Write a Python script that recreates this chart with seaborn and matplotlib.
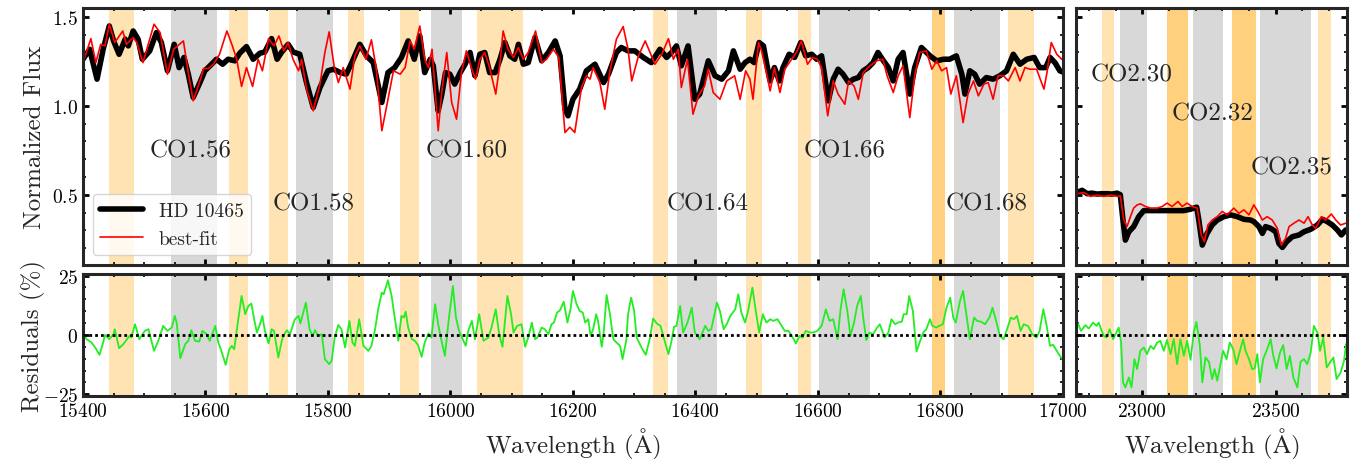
import matplotlib
matplotlib.use("Agg")
import matplotlib.pyplot as plt
import seaborn as sns
from matplotlib.ticker import MultipleLocator

# ---- observed spectrum (HD 10465), H band ----
wave_obs = [15400, 15411, 15423, 15433, 15443, 15450, 15459, 15469, 15474, 15482, 15490, 15497,
            15509, 15520, 15528, 15538, 15549, 15557, 15565, 15572, 15580, 15591, 15599, 15610,
            15618, 15628, 15637, 15648, 15656, 15667, 15678, 15689, 15697, 15708, 15717, 15724,
            15735, 15743, 15754, 15765, 15776, 15787, 15800, 15809, 15820, 15830, 15839, 15852,
            15863, 15874, 15888, 15898, 15909, 15920, 15931, 15941, 15950, 15958, 15967, 15972,
            15980, 15986, 15992, 15999, 16007, 16016, 16024, 16032, 16040, 16048, 16056, 16064,
            16073, 16081, 16089, 16097, 16105, 16111, 16119, 16127, 16138, 16149, 16160, 16171,
            16179, 16187, 16192, 16200, 16211, 16222, 16236, 16250, 16258, 16271, 16279, 16290,
            16301, 16315, 16328, 16342, 16353, 16361, 16369, 16377, 16388, 16399, 16407, 16421,
            16432, 16443, 16454, 16462, 16473, 16481, 16489, 16496, 16504, 16511, 16517, 16522,
            16529, 16537, 16543, 16553, 16562, 16572, 16580, 16590, 16598, 16606, 16617, 16625,
            16633, 16641, 16650, 16658, 16666, 16674, 16682, 16690, 16698, 16707, 16715, 16723,
            16731, 16739, 16750, 16758, 16769, 16783, 16794, 16805, 16815, 16826, 16835, 16840,
            16848, 16856, 16864, 16875, 16886, 16897, 16908, 16919, 16930, 16941, 16953, 16962,
            16972, 16979, 16987, 16995, 17000]
flux_obs = [1.262, 1.318, 1.150, 1.318, 1.449, 1.365, 1.290, 1.375, 1.337, 1.421, 1.375, 1.262,
            1.309, 1.412, 1.356, 1.197, 1.346, 1.215, 1.272, 1.178, 1.047, 1.131, 1.197, 1.234,
            1.262, 1.234, 1.262, 1.253, 1.296, 1.333, 1.262, 1.296, 1.303, 1.378, 1.262, 1.300,
            1.346, 1.303, 1.290, 1.131, 0.991, 1.103, 1.197, 1.206, 1.187, 1.178, 1.243, 1.346,
            1.281, 1.243, 1.019, 1.187, 1.215, 1.272, 1.365, 1.262, 1.393, 1.187, 1.262, 1.225,
            0.972, 1.066, 1.187, 1.178, 1.122, 1.187, 1.234, 1.300, 1.169, 1.290, 1.300, 1.187,
            1.187, 1.262, 1.356, 1.281, 1.262, 1.346, 1.234, 1.243, 1.384, 1.253, 1.300, 1.365,
            1.281, 0.981, 0.944, 1.037, 1.094, 1.197, 1.234, 1.131, 1.178, 1.300, 1.328, 1.309,
            1.309, 1.272, 1.243, 1.318, 1.272, 1.300, 1.337, 1.225, 1.337, 1.037, 1.066, 1.253,
            1.169, 1.150, 1.197, 1.309, 1.206, 1.243, 1.262, 1.243, 1.356, 1.337, 1.225, 1.140,
            1.215, 1.140, 1.215, 1.290, 1.272, 1.356, 1.281, 1.290, 1.262, 1.281, 1.028, 1.150,
            1.206, 1.178, 1.131, 1.150, 1.159, 1.197, 1.215, 1.243, 1.300, 1.253, 1.215, 1.140,
            1.262, 1.300, 1.066, 1.215, 1.328, 1.281, 1.253, 1.262, 1.262, 1.281, 1.178, 1.066,
            1.197, 1.178, 1.122, 1.159, 1.150, 1.169, 1.197, 1.290, 1.234, 1.262, 1.272, 1.215,
            1.215, 1.272, 1.243, 1.197, 1.190]

# ---- best-fit model, H band ----
wave_fit = [15400, 15413, 15421, 15429, 15436, 15443, 15452, 15465, 15471, 15482, 15488, 15498,
            15516, 15526, 15538, 15548, 15564, 15572, 15580, 15591, 15597, 15605, 15613, 15623,
            15635, 15644, 15651, 15659, 15667, 15677, 15686, 15693, 15703, 15712, 15720, 15728,
            15735, 15743, 15752, 15757, 15765, 15776, 15787, 15795, 15802, 15810, 15817, 15825,
            15836, 15844, 15852, 15862, 15871, 15879, 15888, 15896, 15907, 15918, 15926, 15934,
            15941, 15950, 15958, 15964, 15970, 15980, 15986, 15994, 16002, 16010, 16018, 16026,
            16035, 16041, 16048, 16056, 16064, 16074, 16081, 16086, 16094, 16103, 16111, 16119,
            16127, 16139, 16149, 16157, 16168, 16177, 16187, 16195, 16203, 16214, 16222, 16228,
            16233, 16244, 16252, 16260, 16271, 16282, 16290, 16296, 16307, 16318, 16326, 16334,
            16345, 16356, 16364, 16372, 16377, 16387, 16396, 16405, 16415, 16421, 16429, 16440,
            16451, 16464, 16473, 16482, 16489, 16494, 16503, 16508, 16517, 16522, 16529, 16538,
            16546, 16557, 16565, 16573, 16583, 16591, 16599, 16606, 16616, 16625, 16633, 16644,
            16650, 16659, 16666, 16674, 16685, 16696, 16706, 16713, 16723, 16731, 16739, 16750,
            16758, 16766, 16777, 16786, 16794, 16802, 16810, 16817, 16826, 16837, 16845, 16854,
            16862, 16871, 16878, 16886, 16894, 16903, 16911, 16922, 16930, 16938, 16946, 16957,
            16969, 16974, 16981, 16990, 16998]
flux_fit = [1.243, 1.378, 1.243, 1.346, 1.337, 1.459, 1.356, 1.421, 1.346, 1.384, 1.356, 1.243,
            1.459, 1.412, 1.178, 1.318, 1.365, 1.187, 1.028, 1.140, 1.210, 1.210, 1.234, 1.290,
            1.421, 1.337, 1.262, 1.109, 1.215, 1.109, 1.262, 1.197, 1.378, 1.337, 1.393, 1.309,
            1.356, 1.262, 1.197, 1.262, 1.094, 0.972, 1.122, 1.300, 1.416, 1.225, 1.131, 1.215,
            1.094, 1.281, 1.337, 1.262, 1.371, 1.206, 0.860, 1.000, 1.197, 1.178, 1.215, 1.365,
            1.318, 1.449, 1.262, 1.215, 1.318, 0.860, 1.084, 1.300, 1.019, 0.925, 1.187, 1.309,
            1.206, 1.150, 1.262, 1.300, 1.215, 1.066, 1.243, 1.421, 1.318, 1.272, 1.328, 1.262,
            1.300, 1.421, 1.243, 1.262, 1.318, 1.272, 0.850, 0.880, 0.850, 1.103, 1.169, 1.150,
            1.215, 1.131, 0.981, 1.187, 1.375, 1.446, 1.318, 1.140, 1.281, 1.365, 1.300, 1.234,
            1.290, 1.378, 1.262, 1.318, 1.103, 1.262, 0.953, 1.056, 1.112, 1.206, 1.075, 1.037,
            1.140, 1.169, 1.037, 1.197, 1.150, 1.037, 1.356, 1.309, 1.169, 1.084, 1.215, 1.075,
            1.206, 1.262, 1.300, 1.365, 1.234, 1.272, 1.262, 1.215, 0.944, 1.140, 1.066, 1.009,
            1.140, 1.112, 1.037, 1.187, 1.225, 1.253, 1.262, 1.169, 1.075, 1.169, 1.225, 0.934,
            1.169, 1.300, 1.309, 1.206, 1.253, 1.197, 1.215, 1.066, 1.169, 0.906, 1.066, 1.140,
            1.056, 1.122, 1.131, 1.037, 1.169, 1.169, 1.140, 1.215, 1.140, 1.215, 1.206, 1.206,
            1.094, 1.187, 1.356, 1.290, 1.262]

# ---- residuals (%), H band ----
wave_res = [15401, 15406, 15414, 15420, 15427, 15433, 15436, 15443, 15450, 15452, 15459, 15466,
            15476, 15479, 15485, 15492, 15501, 15507, 15516, 15523, 15531, 15538, 15545, 15550,
            15553, 15559, 15567, 15572, 15577, 15583, 15590, 15595, 15602, 15607, 15616, 15621,
            15626, 15633, 15639, 15643, 15647, 15654, 15659, 15665, 15670, 15675, 15679, 15684,
            15689, 15693, 15697, 15703, 15708, 15712, 15719, 15724, 15727, 15733, 15738, 15746,
            15752, 15755, 15764, 15770, 15775, 15779, 15784, 15790, 15795, 15802, 15806, 15811,
            15817, 15822, 15828, 15835, 15840, 15844, 15851, 15858, 15866, 15871, 15877, 15882,
            15888, 15891, 15898, 15904, 15909, 15915, 15920, 15924, 15927, 15931, 15937, 15942,
            15947, 15953, 15958, 15964, 15969, 15975, 15980, 15986, 15991, 15997, 16004, 16009,
            16014, 16020, 16025, 16029, 16035, 16040, 16047, 16054, 16062, 16067, 16074, 16080,
            16085, 16093, 16099, 16103, 16109, 16116, 16122, 16127, 16133, 16138, 16142, 16149,
            16154, 16160, 16165, 16169, 16174, 16179, 16185, 16191, 16196, 16200, 16206, 16211,
            16216, 16220, 16225, 16229, 16233, 16238, 16241, 16247, 16250, 16255, 16260, 16266,
            16271, 16277, 16281, 16287, 16290, 16295, 16300, 16304, 16312, 16319, 16326, 16331,
            16337, 16343, 16349, 16356, 16361, 16365, 16369, 16375, 16380, 16387, 16394, 16399,
            16407, 16416, 16421, 16426, 16435, 16440, 16446, 16451, 16457, 16465, 16470, 16475,
            16481, 16486, 16493, 16499, 16504, 16510, 16516, 16522, 16527, 16534, 16539, 16546,
            16552, 16559, 16564, 16570, 16575, 16580, 16587, 16592, 16599, 16606, 16613, 16619,
            16625, 16632, 16637, 16642, 16648, 16653, 16659, 16664, 16670, 16674, 16679, 16684,
            16690, 16696, 16701, 16709, 16715, 16720, 16726, 16731, 16737, 16740, 16745, 16749,
            16755, 16761, 16767, 16772, 16777, 16783, 16787, 16793, 16798, 16804, 16810, 16816,
            16821, 16825, 16832, 16837, 16843, 16848, 16855, 16860, 16866, 16873, 16880, 16885,
            16891, 16897, 16903, 16908, 16915, 16920, 16925, 16931, 16936, 16943, 16950, 16957,
            16962, 16968, 16973, 16979, 16984, 16990, 16995, 17000]
resid = [0.3, -1.8, -3.2, -5.3, -8.4, -3.2, 0.0, -1.8, 0.3, 2.4, -5.6, -3.9,
         -0.4, -1.1, 4.5, -1.8, 1.7, 2.4, -6.7, -2.5, 3.8, 1.7, 3.1, 8.0,
         5.2, -9.8, -3.9, -2.5, 2.0, -2.5, -2.8, 1.7, 0.3, -2.5, 3.8, -3.2,
         -6.7, -12.6, -6.0, -4.6, -6.0, 7.3, 16.4, 8.7, 12.2, 13.2, 7.3, 1.0,
         4.5, 8.0, 1.7, -3.6, 2.4, 1.7, -9.5, -3.2, -0.4, 2.0, 0.3, 6.6,
         8.0, 4.8, 13.6, 2.4, -0.4, 2.0, -0.4, 0.3, -10.2, -12.3, -10.9, -1.1,
         4.2, 2.4, -5.3, 5.9, -3.2, -4.6, 6.6, -4.6, -6.7, -4.6, 2.4, 10.8,
         17.8, 17.1, 23.0, 16.4, 7.3, -2.5, 8.0, 7.3, 9.8, 3.1, -1.8, -2.5,
         -4.2, -9.2, -3.2, 0.6, -1.1, 12.9, 4.5, -3.2, -8.8, 5.9, 20.6, 7.3,
         1.7, -1.8, -4.6, 1.7, 5.9, -1.8, 8.7, -2.5, -1.1, 3.1, 10.8, -0.4,
         -5.0, 16.4, 8.7, 1.0, 3.8, 4.5, -5.0, -1.1, 5.2, -1.8, -1.1, 3.1,
         2.4, 0.3, 4.5, 5.2, 9.4, 10.4, 14.0, 5.2, 10.8, 18.5, 12.9, 10.1,
         9.4, 5.2, 6.6, -0.4, 2.4, 8.7, 5.9, -5.0, 0.3, 16.8, 9.4, -1.8,
         -3.2, -4.6, -10.2, -2.5, 8.7, 15.7, 10.1, -1.1, -5.3, -8.4, -1.1, 6.9,
         4.8, 3.8, -1.8, -8.1, -2.5, 3.4, 3.8, 12.2, 1.0, 5.2, 11.5, 1.0,
         -1.8, 3.8, 1.7, 2.4, 13.6, 10.1, 2.4, 4.5, 8.0, 10.8, 17.1, 9.4,
         5.2, 10.1, 19.9, 9.4, 1.0, 8.7, 5.2, 6.6, 5.9, 6.6, 4.5, 1.7,
         1.7, -1.1, -3.6, -0.4, -1.1, 1.7, 1.0, 1.0, 1.7, 3.8, 10.8, 5.9,
         6.6, -1.8, 10.8, 19.2, 10.1, -0.4, 5.2, 12.2, 16.4, 7.3, -2.2, 1.0,
         0.3, 2.8, 4.5, -1.1, 1.0, 6.6, 4.5, 5.2, 5.6, 8.7, 8.7, 16.4,
         10.1, -7.0, -2.5, 1.0, 2.4, 6.6, 3.8, 3.1, 3.8, 4.5, 11.5, 15.7,
         7.3, 5.2, 14.3, 18.5, 7.3, -1.8, 7.3, 5.9, 5.6, 4.5, 7.3, 11.5,
         5.9, -0.4, -1.8, 1.7, 7.3, 6.6, 8.0, 1.7, 4.5, 3.8, 0.3, -1.1,
         1.7, 10.8, 4.5, -4.6, -4.2, -6.7, -8.8, -10.5]

# ---- K band (CO 2.3 micron) ----
wave_obs_k = [22756, 22775, 22794, 22812, 22831, 22850, 22869, 22887, 22906, 22918, 22928, 22937,
              22950, 22968, 22987, 23006, 23031, 23056, 23081, 23106, 23131, 23156, 23181, 23204,
              23212, 23225, 23243, 23262, 23281, 23306, 23331, 23356, 23381, 23406, 23418, 23437,
              23450, 23462, 23481, 23500, 23512, 23525, 23541, 23562, 23587, 23606, 23631, 23656,
              23675, 23693, 23712, 23731, 23746, 23762]
flux_obs_k = [0.513, 0.525, 0.506, 0.509, 0.504, 0.506, 0.506, 0.504, 0.509, 0.500, 0.358, 0.245,
              0.292, 0.321, 0.377, 0.411, 0.411, 0.411, 0.411, 0.411, 0.411, 0.411, 0.419, 0.430,
              0.358, 0.217, 0.283, 0.330, 0.358, 0.377, 0.387, 0.377, 0.362, 0.358, 0.349, 0.321,
              0.283, 0.321, 0.311, 0.292, 0.226, 0.204, 0.236, 0.264, 0.274, 0.292, 0.306, 0.330,
              0.362, 0.349, 0.330, 0.302, 0.274, 0.302]
wave_fit_k = [22756, 22781, 22806, 22831, 22856, 22881, 22906, 22918, 22931, 22943, 22956, 22968,
              22981, 22993, 23012, 23031, 23056, 23075, 23093, 23112, 23134, 23150, 23168, 23187,
              23206, 23221, 23233, 23246, 23262, 23281, 23300, 23318, 23343, 23362, 23381, 23400,
              23418, 23433, 23450, 23468, 23487, 23506, 23521, 23537, 23550, 23568, 23587, 23606,
              23621, 23637, 23650, 23671, 23687, 23708, 23725, 23743, 23762]
flux_fit_k = [0.506, 0.513, 0.491, 0.498, 0.491, 0.498, 0.491, 0.494, 0.358, 0.321, 0.377, 0.425,
              0.443, 0.449, 0.434, 0.425, 0.425, 0.434, 0.453, 0.434, 0.462, 0.434, 0.453, 0.434,
              0.425, 0.274, 0.236, 0.330, 0.358, 0.377, 0.406, 0.387, 0.425, 0.396, 0.415, 0.387,
              0.443, 0.406, 0.358, 0.377, 0.358, 0.311, 0.217, 0.255, 0.321, 0.340, 0.358, 0.340,
              0.377, 0.330, 0.311, 0.377, 0.358, 0.392, 0.358, 0.330, 0.340]
wave_res_k = [22759, 22771, 22787, 22800, 22816, 22829, 22837, 22846, 22856, 22866, 22878, 22891,
              22903, 22912, 22921, 22928, 22937, 22950, 22960, 22971, 22981, 22993, 23006, 23018,
              23031, 23043, 23056, 23068, 23081, 23093, 23106, 23118, 23131, 23143, 23156, 23168,
              23181, 23193, 23203, 23216, 23225, 23237, 23250, 23262, 23271, 23281, 23293, 23303,
              23316, 23328, 23341, 23353, 23366, 23378, 23387, 23400, 23412, 23421, 23431, 23441,
              23453, 23468, 23481, 23491, 23503, 23516, 23528, 23541, 23553, 23566, 23581, 23593,
              23606, 23618, 23631, 23643, 23656, 23666, 23678, 23691, 23703, 23716, 23728, 23743,
              23756, 23763]
resid_k = [4.9, 1.7, 4.1, 2.7, 5.2, 3.8, 5.2, 2.4, -0.4, -1.1, 2.4, -1.8,
           1.0, 3.1, -3.2, -20.0, -22.1, -17.9, -22.1, -10.2, -14.4, -6.7, -5.3, -8.1,
           -4.6, -6.0, -3.2, -2.5, -6.7, -2.1, -8.1, -1.8, -12.3, -1.8, -8.8, -2.5,
           -10.5, 1.0, 5.5, -4.6, -20.0, -9.5, -11.3, -18.6, -14.4, -19.3, -12.3, -6.7,
           -10.2, -3.2, -6.0, -12.3, -6.7, -1.8, -6.7, -10.2, -14.4, -14.1, -8.1, -20.0,
           -10.2, -6.0, -1.8, -8.8, -14.1, -7.4, -4.3, -14.4, -8.8, -17.9, -22.1, -11.3,
           -10.2, -12.3, -7.4, 3.8, 1.0, -6.7, -1.1, -13.7, -11.6, -9.5, -18.6, -15.8,
           -10.9, -3.9]

# ---- fitting windows: (start, end, kind) ----
bands_h = [(15442, 15483, "line"), (15544, 15619, "cont"), (15638, 15669, "line"),
           (15704, 15735, "line"), (15748, 15808, "cont"), (15833, 15859, "line"),
           (15918, 15949, "line"), (15968, 16019, "cont"), (16043, 16118, "line"),
           (16330, 16356, "line"), (16370, 16435, "cont"), (16482, 16508, "line"),
           (16568, 16589, "line"), (16602, 16685, "cont"), (16786, 16807, "strong"),
           (16822, 16897, "cont"), (16911, 16952, "line")]
bands_k = [(22851, 22896, "line"), (22918, 23019, "cont"), (23091, 23172, "strong"),
           (23189, 23301, "cont"), (23338, 23425, "strong"), (23441, 23631, "cont"),
           (23657, 23708, "line")]

labels_h = ["CO1.56", "CO1.58", "CO1.60", "CO1.64", "CO1.66", "CO1.68"]
labels_h_x = [15576, 15777, 16027, 16420, 16643, 16875]
labels_h_y = [0.75, 0.45, 0.75, 0.45, 0.75, 0.45]
labels_k = ["CO2.30", "CO2.32", "CO2.35"]
labels_k_x = [22960, 23262, 23560]
labels_k_y = [1.176, 0.955, 0.653]

band_style = {"line": ("orange", 0.3), "strong": ("orange", 0.5), "cont": ("gray", 0.3)}

sns.set_style("ticks")
plt.rcParams["font.family"] = ["cmr10", "DejaVu Serif"]
plt.rcParams["mathtext.fontset"] = "cm"
plt.rcParams["axes.formatter.use_mathtext"] = True
plt.rcParams["axes.linewidth"] = 2.2
for ax_name in ["xtick", "ytick"]:
    plt.rcParams[ax_name + ".direction"] = "in"
    plt.rcParams[ax_name + ".major.size"] = 4.5
    plt.rcParams[ax_name + ".major.width"] = 2
    plt.rcParams[ax_name + ".minor.size"] = 2.3
    plt.rcParams[ax_name + ".minor.width"] = 1.2
    plt.rcParams[ax_name + ".labelsize"] = 14
    plt.rcParams[ax_name + ".color"] = "black"
plt.rcParams["xtick.top"] = True
plt.rcParams["ytick.right"] = True
plt.rcParams["xtick.minor.visible"] = True
plt.rcParams["ytick.minor.visible"] = True

fig = plt.figure(figsize=(13.62, 4.6), dpi=100)
ax_h = fig.add_axes([0.0609, 0.4217, 0.7195, 0.5587])
ax_k = fig.add_axes([0.7900, 0.4217, 0.1990, 0.5587])
ax_hr = fig.add_axes([0.0609, 0.137, 0.7195, 0.266])
ax_kr = fig.add_axes([0.7900, 0.137, 0.1990, 0.266])


def shade(ax, bands):
    for start, end, kind in bands:
        color, alpha = band_style[kind]
        ax.axvspan(start, end, color=color, alpha=alpha, lw=0, zorder=0)


for ax, bands in [(ax_h, bands_h), (ax_hr, bands_h), (ax_k, bands_k), (ax_kr, bands_k)]:
    shade(ax, bands)

# spectra
sns.lineplot(x=wave_obs, y=flux_obs, ax=ax_h, color="black", lw=4, sort=False,
             estimator=None, label="HD 10465", solid_joinstyle="round")
sns.lineplot(x=wave_fit, y=flux_fit, ax=ax_h, color="red", lw=1.2, sort=False,
             estimator=None, label="best-fit")
sns.lineplot(x=wave_obs_k, y=flux_obs_k, ax=ax_k, color="black", lw=4, sort=False,
             estimator=None, legend=False, solid_joinstyle="round")
sns.lineplot(x=wave_fit_k, y=flux_fit_k, ax=ax_k, color="red", lw=1.2, sort=False,
             estimator=None, legend=False)

# residuals
sns.lineplot(x=wave_res, y=resid, ax=ax_hr, color="#22ee22", lw=1.3, sort=False,
             estimator=None, legend=False)
sns.lineplot(x=wave_res_k, y=resid_k, ax=ax_kr, color="#22ee22", lw=1.3, sort=False,
             estimator=None, legend=False)
for ax in [ax_hr, ax_kr]:
    ax.axhline(0, color="black", lw=2, ls=(0, (1, 1.1)), zorder=3)

for txt, x, y in zip(labels_h, labels_h_x, labels_h_y):
    ax_h.text(x, y, txt, fontsize=18, ha="center", va="center")
for txt, x, y in zip(labels_k, labels_k_x, labels_k_y):
    ax_k.text(x, y, txt, fontsize=18, ha="center", va="center")

# limits and ticks
for ax in [ax_h, ax_hr]:
    ax.set_xlim(15400, 17000)
    ax.xaxis.set_major_locator(MultipleLocator(200))
    ax.xaxis.set_minor_locator(MultipleLocator(50))
for ax in [ax_k, ax_kr]:
    ax.set_xlim(22752, 23767)
    ax.xaxis.set_major_locator(MultipleLocator(500))
    ax.xaxis.set_minor_locator(MultipleLocator(100))
for ax in [ax_h, ax_k]:
    ax.set_ylim(0.105, 1.55)
    ax.yaxis.set_major_locator(MultipleLocator(0.5))
    ax.yaxis.set_minor_locator(MultipleLocator(0.1))
    ax.set_xticklabels([])
    ax.set_xlabel("")
for ax in [ax_hr, ax_kr]:
    ax.set_ylim(-25.7, 25.8)
    ax.yaxis.set_major_locator(MultipleLocator(25))
    ax.yaxis.set_minor_locator(MultipleLocator(5))
    ax.set_xlabel(r"Wavelength ($\mathrm{\AA}$)", fontsize=18)
    ax.tick_params(axis="x", pad=4.5)
for ax in [ax_k, ax_kr]:
    ax.set_yticklabels([])
    ax.set_ylabel("")

ax_h.set_ylabel("Normalized Flux", fontsize=18)
ax_hr.set_ylabel("Residuals (%)", fontsize=18)
ax_h.yaxis.set_label_coords(-0.038, 0.5)
ax_hr.yaxis.set_label_coords(-0.038, 0.5)
ax_h.legend(loc="lower left", fontsize=14, handlelength=2.2)

fig.savefig("out.png", dpi=100)
